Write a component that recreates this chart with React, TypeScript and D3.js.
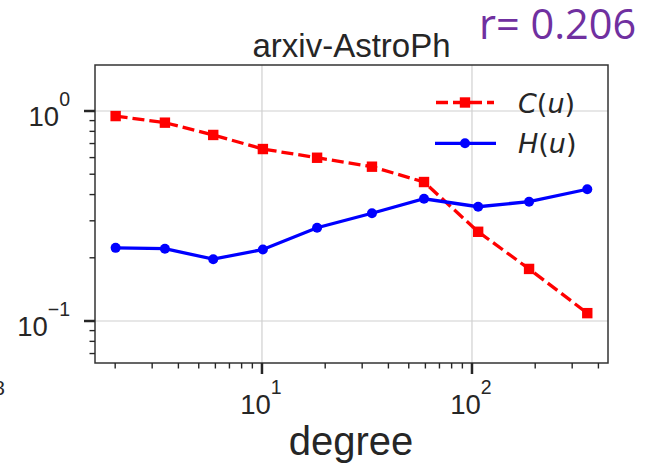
import React from "react";
import * as d3 from "d3";

const degree = [2.01, 3.45, 5.86, 10.1, 18.3, 33.4, 59.1, 107, 187, 354];
const cValues = [0.946, 0.88, 0.769, 0.659, 0.599, 0.543, 0.459, 0.266, 0.177, 0.109];
const hValues = [0.223, 0.221, 0.197, 0.219, 0.278, 0.326, 0.382, 0.35, 0.37, 0.424];
const xMajor = [10, 100];
const xMajorExp = ["1", "2"];
const yMajor = [0.1, 1];
const yMajorExp = ["\u22121", "0"];
const seriesNames = ["C", "H"];

const W = 646;
const H = 465;
const L = 95, R = 608, T = 65, B = 363;
const FONT = "'Liberation Sans', Arial, sans-serif";
const TXT = "#262626";

export default function App() {
  const x = d3.scaleLog().domain([1.603, 444.3]).range([L, R]);
  const y = d3.scaleLog().domain([0.0631, 1.656]).range([B, T]);
  const xMinor = x.ticks().filter((t) => !xMajor.some((m) => Math.abs(m - t) < 1e-9));
  const yMinor = y.ticks().filter((t) => !yMajor.some((m) => Math.abs(m - t) < 1e-9));

  const line = d3
    .line<number>()
    .x((_, i) => x(degree[i]))
    .y((d) => y(d));

  const cPath = line(cValues) || "";
  const hPath = line(hValues) || "";

  return (
    <svg
      width={W}
      height={H}
      style={{ position: "absolute", left: 0, top: 0, background: "#fff" }}
    >
      <rect x={0} y={0} width={W} height={H} fill="#fff" />
      {/* grid */}
      {xMajor.map((t) => (
        <line key={"gx" + t} x1={x(t)} x2={x(t)} y1={T} y2={B} stroke="#d0d0d0" strokeWidth={1.2} />
      ))}
      {yMajor.map((t) => (
        <line key={"gy" + t} x1={L} x2={R} y1={y(t)} y2={y(t)} stroke="#d0d0d0" strokeWidth={1.2} />
      ))}

      {/* series */}
      <path d={cPath} fill="none" stroke="#ff0000" strokeWidth={3.3} strokeDasharray="12,5" />
      {cValues.map((v, i) => (
        <rect key={"cm" + i} x={x(degree[i]) - 5.2} y={y(v) - 5.2} width={10.4} height={10.4} fill="#ff0000" />
      ))}
      <path d={hPath} fill="none" stroke="#0000ff" strokeWidth={3.3} />
      {hValues.map((v, i) => (
        <circle key={"hm" + i} cx={x(degree[i])} cy={y(v)} r={5} fill="#0000ff" />
      ))}

      {/* spines */}
      <rect x={L} y={T} width={R - L} height={B - T} fill="none" stroke="#333" strokeWidth={1.5} />

      {/* x ticks */}
      {xMajor.map((t) => (
        <line key={"xt" + t} x1={x(t)} x2={x(t)} y1={B} y2={B + 11} stroke={TXT} strokeWidth={2.5} />
      ))}
      {xMinor.map((t) => (
        <line key={"xm" + t} x1={x(t)} x2={x(t)} y1={B} y2={B + 5.5} stroke={TXT} strokeWidth={1.4} />
      ))}
      {yMajor.map((t) => (
        <line key={"yt" + t} x1={L - 11} x2={L} y1={y(t)} y2={y(t)} stroke={TXT} strokeWidth={2.5} />
      ))}
      {yMinor.map((t) => (
        <line key={"ym" + t} x1={L - 5.5} x2={L} y1={y(t)} y2={y(t)} stroke={TXT} strokeWidth={1.4} />
      ))}

      {/* x tick labels */}
      {xMajor.map((t, i) => (
        <text key={"xl" + t} x={x(t) - 1} y={414} textAnchor="middle" fontFamily={FONT} fontSize={27.5} fill={TXT}>
          10
          <tspan fontSize={19.5} dy={-20}>{xMajorExp[i]}</tspan>
        </text>
      ))}
      {/* y tick labels */}
      {yMajor.map((t, i) => (
        <text key={"yl" + t} x={70} y={y(t) + 14.5} textAnchor="end" fontFamily={FONT} fontSize={27.5} fill={TXT}>
          10
          <tspan fontSize={19.5} dy={-20}>{yMajorExp[i]}</tspan>
        </text>
      ))}

      {/* legend */}
      <line x1={436} x2={494} y1={102.5} y2={102.5} stroke="#ff0000" strokeWidth={3.3} strokeDasharray="12,5" />
      <rect x={459.8} y={97.3} width={10.4} height={10.4} fill="#ff0000" />
      <text x={518} y={113} fontFamily="'DejaVu Sans', sans-serif" fontSize={27} fill={TXT}>
        <tspan fontStyle="italic">{seriesNames[0]}</tspan>(<tspan fontStyle="italic">u</tspan>)
      </text>
      <line x1={435} x2={496} y1={143.3} y2={143.3} stroke="#0000ff" strokeWidth={3.3} />
      <circle cx={465} cy={143.3} r={5} fill="#0000ff" />
      <text x={518} y={153} fontFamily="'DejaVu Sans', sans-serif" fontSize={27} fill={TXT}>
        <tspan fontStyle="italic">{seriesNames[1]}</tspan>(<tspan fontStyle="italic">u</tspan>)
      </text>

      {/* titles */}
      <text x={351.5} y={57} textAnchor="middle" fontFamily={FONT} fontSize={33} fill={TXT}>
        arxiv-AstroPh
      </text>
      <text x={351} y={455} textAnchor="middle" fontFamily={FONT} fontSize={40} fill={TXT}>
        degree
      </text>
      <text x={479} y={39} fontFamily="'Open Sans', sans-serif" fontSize={41.5} fill="#7030a0">
        r= 0.206
      </text>
      <text x={5} y={395} textAnchor="end" fontFamily={FONT} fontSize={21} fill={TXT}>
        8
      </text>
    </svg>
  );
}
